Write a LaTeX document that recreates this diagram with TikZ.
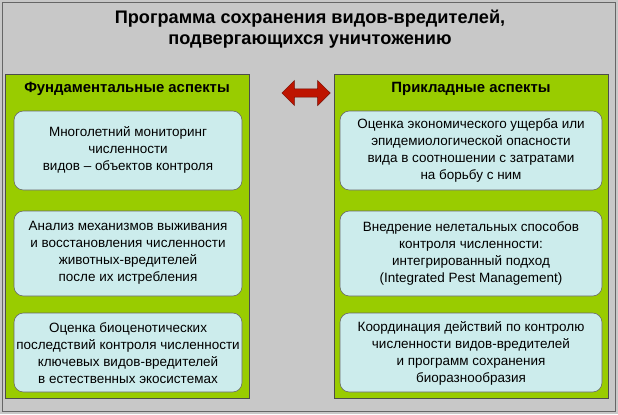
\documentclass[tikz,border=0pt]{standalone}
\usepackage{fontspec}
\setmainfont{Liberation Sans}
\usepackage{tikz}
\usetikzlibrary{positioning,shapes.arrows}
\definecolor{bggrey}{RGB}{200,200,200}
\definecolor{panelgreen}{RGB}{153,204,0}
\definecolor{boxcyan}{RGB}{204,236,236}
\definecolor{arrowred}{RGB}{190,20,0}
\tikzset{
  panel/.style={draw=black!70,fill=panelgreen,line width=0.6pt},
  itembox/.style={draw=black!60,fill=boxcyan,rounded corners=8pt,line width=0.5pt},
  itemtext/.style={align=center,font=\fontsize{11.5}{14.5}\selectfont},
  headtext/.style={font=\fontsize{12.7}{14}\selectfont\bfseries}
}
\begin{document}
\begin{tikzpicture}[x=0.03cm,y=-0.03cm]
  % background
  \fill[bggrey] (0,0) rectangle (618,414);
  \draw[black!60,line width=0.8pt] (2,2) rectangle (615,411);
  \node[align=center,font=\fontsize{15.5}{18.5}\selectfont\bfseries] (title) at (310,29)
    {Программа сохранения видов-вредителей,\\подвергающихся уничтожению};
  % panels
  \draw[panel] (5,74) rectangle (249,398);
  \draw[panel] (334,74) rectangle (608,398);
  \node[headtext] (lhead) at (127,89) {Фундаментальные аспекты};
  \node[headtext] (rhead) at (471,89) {Прикладные аспекты};
  \node[double arrow,draw=arrowred!60!black,fill=arrowred,minimum width=0.75cm,
        double arrow head extend=0.12cm,minimum height=1.45cm,inner sep=1.5pt] (link) at (306,93) {};
  % left boxes
  \draw[itembox] (14,111) rectangle (242,190);
  \node[itemtext] (l1) at (128,150) {Многолетний мониторинг\\численности\\видов -- объектов контроля};
  \draw[itembox] (14,211) rectangle (242,296);
  \node[itemtext] (l2) at (128,253) {Анализ механизмов выживания\\и восстановления численности\\животных-вредителей\\после их истребления};
  \draw[itembox] (14,313) rectangle (242,392);
  \node[itemtext] (l3) at (128,353) {Оценка биоценотических\\последствий контроля численности\\ключевых видов-вредителей\\в естественных экосистемах};
  % right boxes
  \draw[itembox] (340,111) rectangle (602,190);
  \node[itemtext] (r1) at (471,150) {Оценка экономического ущерба или\\эпидемиологической опасности\\вида в соотношении с затратами\\на борьбу с ним};
  \draw[itembox] (340,211) rectangle (602,296);
  \node[itemtext] (r2) at (471,253) {Внедрение нелетальных способов\\контроля численности:\\интегрированный подход\\(Integrated Pest Management)};
  \draw[itembox] (340,313) rectangle (602,392);
  \node[itemtext] (r3) at (471,353) {Координация действий по контролю\\численности видов-вредителей\\и программ сохранения\\биоразнообразия};
\end{tikzpicture}
\end{document}
